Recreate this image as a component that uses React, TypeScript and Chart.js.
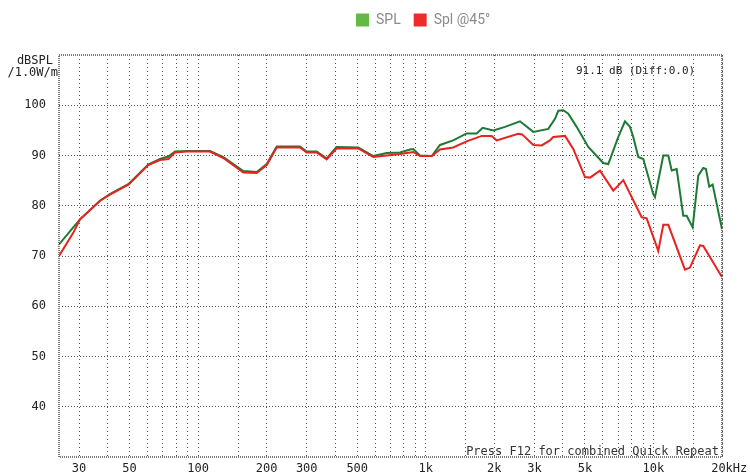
import React, { useEffect, useRef } from 'react';
import { Chart, registerables } from 'chart.js';

Chart.register(...registerables);

// ---- data ----
const seriesNames = ['SPL', 'Spl @45°'];

const splFreq = [24.5, 28.3, 30.3, 37.1, 41, 49.4, 60.4, 68, 74, 79.2, 89.1, 112.8, 129.1, 158, 180.9, 200.2, 221.5, 280.3, 299.9, 331.8, 367.2, 405.4, 505.4, 588.3, 673.8, 770.6, 852.4, 881, 943, 1062, 1155, 1320, 1512, 1674, 1778, 1980, 2228, 2593, 2967, 3452, 3695, 3820, 4018, 4226, 4599, 5174, 6020, 6333, 7009, 7497, 7886, 8154, 8577, 9023, 9981, 10155, 11045, 11618, 12024, 12647, 13519, 13992, 14864, 15731, 16547, 17008, 17581, 18199, 20000];
const splDb = [72.3, 75.7, 77.3, 81, 82.3, 84.3, 88.2, 89.3, 89.8, 90.8, 90.9, 90.9, 89.7, 86.9, 86.7, 88.3, 91.8, 91.8, 90.8, 90.8, 89.4, 91.7, 91.6, 89.9, 90.5, 90.6, 91.2, 91.3, 90, 89.9, 92.1, 93, 94.4, 94.4, 95.5, 95, 95.7, 96.8, 94.7, 95.3, 97.3, 98.9, 99, 98.3, 95.7, 91.7, 88.5, 88.3, 93.7, 96.8, 95.7, 93.7, 89.7, 89.3, 82.3, 81.7, 90, 90, 87, 87.3, 78, 78, 75.7, 86, 87.5, 87.3, 83.8, 84.2, 75.3];

const offFreq = [24.5, 28.3, 30.3, 37.1, 41, 49.4, 60.4, 68, 74, 79.2, 89.1, 112.8, 129.1, 158, 180.9, 200.2, 221.5, 280.3, 299.9, 331.8, 367.2, 405.4, 505.4, 588.3, 673.8, 770.6, 881, 943, 1062, 1155, 1320, 1512, 1760, 1948, 2048, 2548, 2650, 2967, 3229, 3511, 3631, 4088, 4444, 5003, 5262, 5822, 6662, 7372, 8879, 9337, 10501, 11045, 11618, 13752, 14467, 16008, 16547, 20000];
const offDb = [70, 74.6, 77.3, 81, 82.2, 84.2, 88.1, 89.1, 89.3, 90.6, 90.8, 90.8, 89.5, 86.6, 86.5, 88.1, 91.6, 91.6, 90.6, 90.6, 89.2, 91.4, 91.4, 89.7, 90, 90.3, 90.7, 89.9, 89.9, 91.2, 91.6, 92.8, 93.9, 93.9, 93, 94.3, 94.2, 92.1, 92, 93, 93.7, 93.9, 91.3, 85.7, 85.6, 87, 83, 85.1, 77.7, 77.5, 71, 76.2, 76.2, 67.3, 67.7, 72.1, 72, 65.8];

const gridFreqs = [30, 40, 50, 60, 70, 80, 90, 100, 150, 200, 300, 400, 500, 600, 700, 800, 900, 1000, 1500, 2000, 3000, 4000, 5000, 6000, 7000, 8000, 9000, 10000, 15000, 20000];
const labeledFreqs = [30, 50, 100, 200, 300, 500, 1000, 2000, 3000, 5000, 10000, 20000];
const freqLabels = ['30', '50', '100', '200', '300', '500', '1k', '2k', '3k', '5k', '10k', '  20kHz'];
const dbTicks = [40, 50, 60, 70, 80, 90, 100];

const MONO = '"DejaVu Sans Mono", monospace';

const overlayPlugin = {
  id: 'overlay',
  afterLayout(chart: any) {
    const lg = chart.legend;
    if (lg) {
      const pad = 13;
      const dx = 356 - (lg.left + pad);
      lg.left += dx;
      lg.right += dx;
    }
  },
  beforeDatasetsDraw(chart: any) {
    const { ctx, chartArea } = chart;
    const { left, top, right, bottom } = chartArea;
    ctx.save();
    ctx.strokeStyle = '#7a7a7a';
    ctx.lineWidth = 2;
    ctx.setLineDash([1, 1]);
    ctx.strokeRect(left, top, right - left, bottom - top);
    ctx.restore();
  },
  afterDraw(chart: any) {
    const { ctx, chartArea } = chart;
    const { left, right, bottom } = chartArea;
    ctx.save();
    ctx.fillStyle = '#222';
    ctx.font = '12px ' + MONO;
    ctx.textAlign = 'right';
    ctx.textBaseline = 'middle';
    ctx.fillText('dBSPL', left - 6, 61);
    ctx.fillText('/1.0W/m', left - 1, 73);
    ctx.font = '11px ' + MONO;
    ctx.textAlign = 'left';
    ctx.fillText('91.1 dB (Diff:0.0)', 576, 71);
    ctx.font = '12px ' + MONO;
    ctx.textAlign = 'right';
    ctx.textBaseline = 'alphabetic';
    ctx.fillStyle = '#333';
    ctx.fillText('Press F12 for combined Quick Repeat', right - 3, bottom - 2);
    ctx.restore();
  },
};

export default function App() {
  const canvasRef = useRef<HTMLCanvasElement | null>(null);

  useEffect(() => {
    document.body.style.margin = '0';
    const canvas = canvasRef.current;
    if (!canvas) return;
    const chart = new Chart(canvas, {
      type: 'line',
      data: {
        datasets: [
          {
            label: seriesNames[0],
            data: splFreq.map((f, i) => ({ x: f, y: splDb[i] })),
            borderColor: '#1d7a34',
            backgroundColor: '#63b945',
            borderWidth: 2,
            pointRadius: 0,
            tension: 0,
            order: 1,
          },
          {
            label: seriesNames[1],
            data: offFreq.map((f, i) => ({ x: f, y: offDb[i] })),
            borderColor: '#e8221e',
            backgroundColor: '#ee2b2b',
            borderWidth: 2,
            pointRadius: 0,
            tension: 0,
            order: 0,
          },
        ],
      },
      options: {
        responsive: false,
        animation: false,
        layout: { padding: { left: 0, right: 28, top: 0, bottom: 0 } },
        plugins: {
          tooltip: { enabled: false },
          legend: {
            position: 'top',
            align: 'start',
            weight: 3000,
            labels: {
              boxWidth: 13,
              boxHeight: 13,
              padding: 13,
              color: '#8a8a8a',
              font: { family: 'Roboto', size: 14 },
              sort: (a: any, b: any) => a.datasetIndex - b.datasetIndex,
              generateLabels: (ch: any) =>
                (Chart as any).defaults.plugins.legend.labels
                  .generateLabels(ch)
                  .map((l: any) => ({ ...l, strokeStyle: l.fillStyle, lineWidth: 0 })),
            },
          },
          title: {
            display: true,
            text: '',
            position: 'top',
            weight: 2000,
            font: { size: 1 },
            padding: { top: 0, bottom: 16.8 },
          },
        } as any,
        scales: {
          x: {
            type: 'logarithmic',
            min: 24.5,
            max: 20000,
            afterBuildTicks: (scale: any) => {
              scale.ticks = gridFreqs.map((v) => ({ value: v }));
            },
            afterFit: (scale: any) => {
              scale.height = 16;
              scale.paddingLeft = 0;
              scale.paddingRight = 0;
            },
            ticks: {
              autoSkip: false,
              maxRotation: 0,
              minRotation: 0,
              padding: 5,
              color: '#222',
              font: { family: MONO, size: 12 },
              callback: (v: any) => {
                const i = labeledFreqs.indexOf(Number(v));
                return i >= 0 ? freqLabels[i] : '';
              },
            },
            grid: { color: '#555', lineWidth: 1, drawTicks: false },
            border: { display: false, dash: [1, 3] },
          },
          y: {
            type: 'linear',
            min: 30,
            max: 110,
            afterFit: (scale: any) => {
              scale.width = 59;
              scale.paddingTop = 0;
              scale.paddingBottom = 0;
            },
            ticks: {
              stepSize: 10,
              padding: 13,
              color: '#222',
              font: { family: MONO, size: 12 },
              callback: (v: any) => (dbTicks.includes(Number(v)) ? String(v) : null),
            },
            grid: { color: '#555', lineWidth: 1, drawTicks: false },
            border: { display: false, dash: [1, 2] },
          },
        } as any,
      },
      plugins: [overlayPlugin],
    } as any);
    return () => chart.destroy();
  }, []);

  return (
    <div style={{ width: 750, height: 473 }}>
      <canvas ref={canvasRef} width={750} height={473} />
    </div>
  );
}
